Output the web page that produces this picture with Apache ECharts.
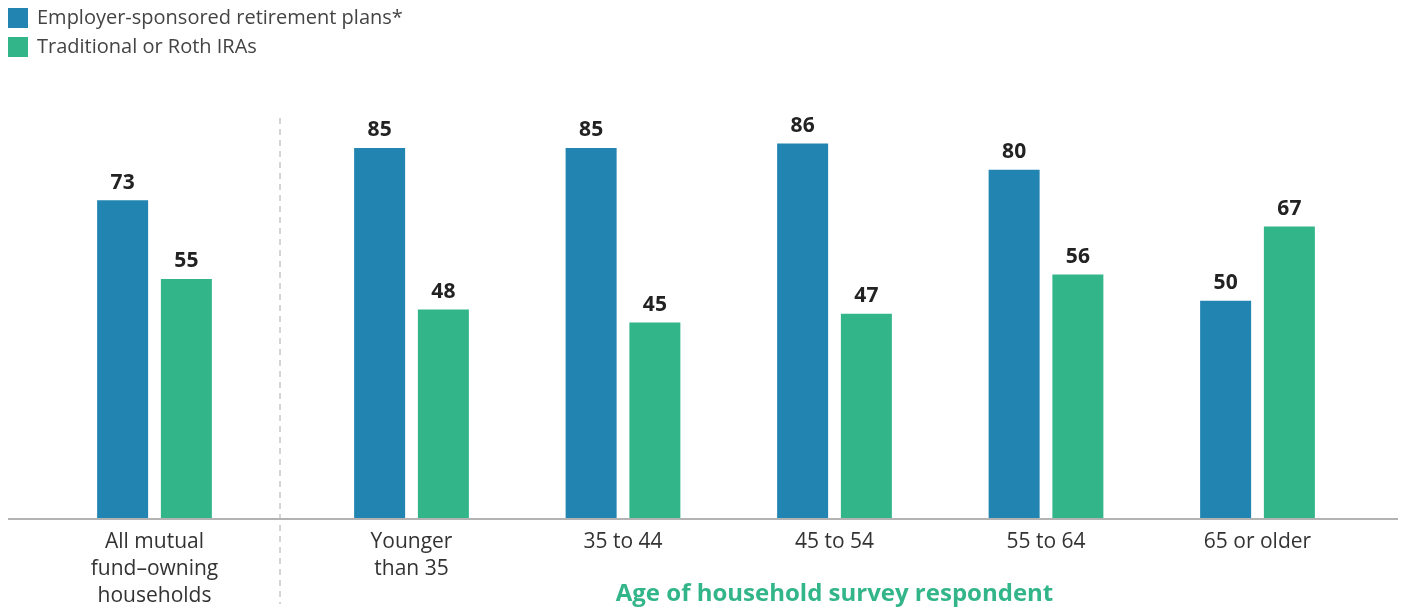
<!DOCTYPE html>
<html><head><meta charset="utf-8">
<script src="https://cdn.jsdelivr.net/npm/echarts@6/dist/echarts.min.js"></script>
<style>html,body{margin:0;padding:0;background:#fff}#c{width:1405px;height:609px}</style>
</head><body><div id="c"></div>
<script>
const allCategory = ['All mutual\nfund\u2013owning\nhouseholds'];
const ageCategories = ['Younger\nthan 35', '35 to 44', '45 to 54', '55 to 64', '65 or older'];
const allEmployer = [73];
const allIRA = [55];
const ageEmployer = [85, 85, 86, 80, 50];
const ageIRA = [48, 45, 47, 56, 67];
const seriesNames = ['Employer-sponsored retirement plans*', 'Traditional or Roth IRAs'];
const axisTitle = 'Age of household survey respondent';

const BLUE = '#2284b0', GREEN = '#33b58a';
const FONT = '"Open Sans", Lato, sans-serif';
const chart = echarts.init(document.getElementById('c'));
const labelCfg = {show: true, position: 'top', distance: 7, fontFamily: FONT, fontSize: 21, fontWeight: 'bold', color: '#222'};
const xLabel = {color: '#333', fontFamily: FONT, fontSize: 21, lineHeight: 27, margin: 10, interval: 0};
function bar(name, data, color, idx) {
  return {name, type: 'bar', data, xAxisIndex: idx, yAxisIndex: idx, barWidth: 51, barGap: '25%',
    itemStyle: {color}, label: labelCfg, emphasis: {disabled: true}};
}
chart.setOption({
  animation: false,
  legend: {orient: 'vertical', left: 8, top: 8, padding: 0, itemWidth: 20, itemHeight: 20, itemGap: 9,
    icon: 'rect', textStyle: {fontFamily: FONT, fontSize: 20, color: '#444', padding: [2, 0, 0, 4]},
    data: seriesNames},
  grid: [
    {left: 48.75, width: 211.5, top: 82.5, bottom: 90, outerBoundsMode: 'none', containLabel: false},
    {left: 305.75, width: 1057.5, top: 82.5, bottom: 90, outerBoundsMode: 'none', containLabel: false}
  ],
  xAxis: [
    {type: 'category', gridIndex: 0, data: allCategory, axisLine: {show: false}, axisTick: {show: false}, axisLabel: xLabel},
    {type: 'category', gridIndex: 1, data: ageCategories, axisLine: {show: false}, axisTick: {show: false}, axisLabel: xLabel,
      name: axisTitle, nameLocation: 'middle', nameGap: 62, nameMoveOverlap: false,
      nameTextStyle: {color: GREEN, fontFamily: FONT, fontSize: 24, fontWeight: 'bold', lineHeight: 26}}
  ],
  yAxis: [
    {type: 'value', gridIndex: 0, min: 0, max: 100, show: false},
    {type: 'value', gridIndex: 1, min: 0, max: 100, show: false}
  ],
  graphic: [
    {type: 'line', shape: {x1: 8, y1: 519, x2: 1398, y2: 519}, style: {stroke: '#b3b3b3', lineWidth: 2}, z: 10},
    {type: 'line', shape: {x1: 280, y1: 118, x2: 280, y2: 604}, style: {stroke: '#aaa', lineWidth: 1, lineDash: [6, 5]}}
  ],
  series: [
    bar(seriesNames[0], allEmployer, BLUE, 0),
    bar(seriesNames[1], allIRA, GREEN, 0),
    bar(seriesNames[0], ageEmployer, BLUE, 1),
    bar(seriesNames[1], ageIRA, GREEN, 1)
  ]
});
</script></body></html>
